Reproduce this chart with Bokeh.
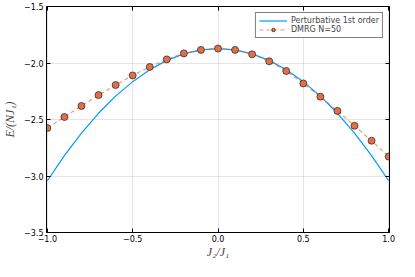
from bokeh.plotting import figure
from bokeh.models import Range1d, LinearAxis, CustomJSTickFormatter, FixedTicker
from bokeh.embed import file_html
from bokeh.resources import INLINE

# Perturbative 1st order curve
pert_x = [-1.0, -0.9, -0.8, -0.7, -0.6, -0.5, -0.4, -0.3, -0.2, -0.1, 0.0,
          0.1, 0.2, 0.3, 0.4, 0.5, 0.6, 0.7, 0.8, 0.9, 1.0]
pert_y = [-3.042, -2.820, -2.621, -2.445, -2.293, -2.165, -2.059, -1.977, -1.919, -1.884, -1.872,
          -1.884, -1.919, -1.977, -2.059, -2.165, -2.293, -2.445, -2.621, -2.820, -3.042]

# DMRG N=50
dmrg_x = [-1.0, -0.9, -0.8, -0.7, -0.6, -0.5, -0.4, -0.3, -0.2, -0.1, 0.0,
          0.1, 0.2, 0.3, 0.4, 0.5, 0.6, 0.7, 0.8, 0.9, 1.0]
dmrg_y = [-2.576, -2.478, -2.380, -2.284, -2.195, -2.110, -2.035, -1.968, -1.915, -1.884, -1.872,
          -1.884, -1.923, -1.985, -2.071, -2.181, -2.298, -2.424, -2.556, -2.688, -2.828]

x_ticks = [-1.0, -0.5, 0.0, 0.5, 1.0]
y_ticks = [-3.5, -3.0, -2.5, -2.0, -1.5]

p = figure(width=399, height=261, output_backend="svg", toolbar_location=None,
           x_range=Range1d(-1.005, 1.005), y_range=Range1d(-3.5, -1.5),
           min_border_left=37, min_border_right=10, min_border_top=6, min_border_bottom=10)

fmt = CustomJSTickFormatter(code="return tick.toFixed(1).replace('-', '\u2212');")

for ax in (p.xaxis[0], p.yaxis[0]):
    ax.formatter = fmt
    ax.major_tick_in = 4
    ax.major_tick_out = 0
    ax.minor_tick_line_color = None
    ax.major_label_text_font = "DejaVu Sans"
    ax.major_label_text_font_size = "8px"
    ax.major_label_text_color = "black"
    ax.axis_label_text_font = "Liberation Serif"
    ax.axis_label_text_font_style = "italic"
    ax.axis_label_text_font_size = "12px"
    ax.axis_line_color = "black"
    ax.major_tick_line_color = "black"
p.xaxis[0].ticker = FixedTicker(ticks=x_ticks)
p.yaxis[0].ticker = FixedTicker(ticks=y_ticks)
p.xaxis[0].axis_label = "J₂/J₁"
p.yaxis[0].axis_label = "E/(NJ₁)"
p.xaxis[0].major_label_standoff = 2
p.yaxis[0].major_label_standoff = 3
p.xaxis[0].axis_label_standoff = 0
p.yaxis[0].axis_label_standoff = 4

# mirrored axes (ticks only)
for side, tk in (("above", x_ticks), ("right", y_ticks)):
    a = LinearAxis(ticker=FixedTicker(ticks=tk), major_label_text_font_size="0px",
                   major_label_text_color=None, major_label_standoff=0,
                   major_tick_in=4, major_tick_out=0, minor_tick_line_color=None,
                   axis_line_color="black", major_tick_line_color="black")
    p.add_layout(a, side)

p.xgrid.ticker = FixedTicker(ticks=x_ticks)
p.ygrid.ticker = FixedTicker(ticks=y_ticks)
p.grid.grid_line_color = "black"
p.grid.grid_line_alpha = 0.1
p.outline_line_color = None

p.line(pert_x, pert_y, line_color="#009AFA", line_width=1.2, legend_label="Perturbative 1st order")
p.line(dmrg_x, dmrg_y, line_color="#E26F46", line_alpha=0.7, line_width=1.2,
       line_dash="4 3", legend_label="DMRG N=50")
p.scatter(dmrg_x, dmrg_y, size=7, fill_color="#E26F46", line_color="#222222", line_width=0.7,
          legend_label="DMRG N=50")

lg = p.legend[0]
lg.location = "top_right"
lg.label_text_font = "DejaVu Sans"
lg.label_text_font_size = "8px"
lg.label_height = 9
lg.glyph_height = 9
lg.glyph_width = 28
lg.spacing = 0
lg.padding = 3
lg.margin = 6
lg.label_standoff = 4
lg.border_line_color = "black"
lg.border_line_width = 1
lg.background_fill_alpha = 1

open("out.html", "w").write(file_html(p, INLINE))
